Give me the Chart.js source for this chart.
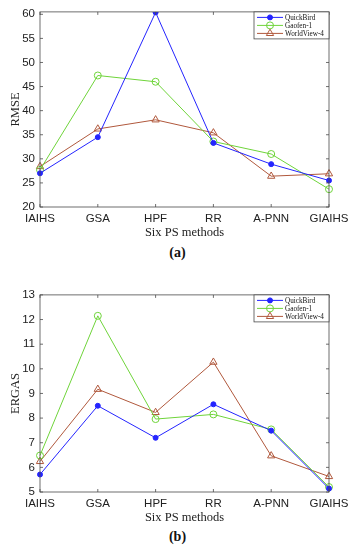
<!DOCTYPE html>
<html>
<head>
<meta charset="utf-8">
<script src="https://cdn.jsdelivr.net/npm/chart.js@4.4.0/dist/chart.umd.min.js"></script>
<style>
  body { margin: 0; background: #fff; width: 355px; height: 550px; position: relative; overflow: hidden; }
  .box { position: absolute; left: 0; width: 355px; }
  .cap { position: absolute; left: 0; width: 355px; text-align: center; font: bold 14px "Liberation Serif", "Times New Roman", serif; color: #111; }
</style>
</head>
<body>
<div class="box" style="top:0;height:242px"><canvas id="rmseChart"></canvas></div>
<div class="cap" style="top:245px">(a)</div>
<div class="box" style="top:283px;height:244px"><canvas id="ergasChart"></canvas></div>
<div class="cap" style="top:529px">(b)</div>
<script>
// six pan-sharpening methods
const methods = ['IAIHS', 'GSA', 'HPF', 'RR', 'A-PNN', 'GIAIHS'];
const seriesNames = ['QuickBird', 'Gaofen-1', 'WorldView-4'];

// (a) RMSE
const rmseQuickBird = [27.0, 34.5, 60.4, 33.3, 28.9, 25.5];
const rmseGaofen = [27.7, 47.3, 46.0, 33.6, 31.0, 23.7];
const rmseWorldView = [28.4, 36.2, 38.1, 35.4, 26.4, 26.9];
const rmseTicks = [20, 25, 30, 35, 40, 45, 50, 55, 60];

// (b) ERGAS
const ergasQuickBird = [5.71, 8.50, 7.20, 8.56, 7.49, 5.14];
const ergasGaofen = [6.48, 12.15, 7.96, 8.15, 7.54, 5.20];
const ergasWorldView = [6.24, 9.17, 8.23, 10.27, 6.47, 5.63];
const ergasTicks = [5, 6, 7, 8, 9, 10, 11, 12, 13];

const colors = ['#2424ff', '#6fd43a', '#b0583c'];
const styles = [
  { pointStyle: 'circle', radius: 2.5, fill: true },
  { pointStyle: 'circle', radius: 3.5, fill: false },
  { pointStyle: 'triangle', radius: 4.2, fill: false }
];

const serif = '"Liberation Serif", "Times New Roman", serif';
const sans = '"Liberation Sans", Arial, Helvetica, sans-serif';

function makeDatasets(arrs) {
  return arrs.map((d, i) => ({
    label: seriesNames[i],
    data: d,
    borderColor: colors[i],
    borderWidth: 1,
    pointStyle: styles[i].pointStyle,
    pointRadius: styles[i].radius,
    pointBorderWidth: 1,
    pointBorderColor: colors[i],
    pointBackgroundColor: styles[i].fill ? colors[i] : 'rgba(255,255,255,0)',
    tension: 0
  }));
}

function drawMarker(ctx, style, color, x, y) {
  ctx.save();
  ctx.strokeStyle = color;
  ctx.fillStyle = color;
  ctx.lineWidth = 1;
  ctx.beginPath();
  if (style.pointStyle === 'triangle') {
    const r = style.radius;
    ctx.moveTo(x, y - r);
    ctx.lineTo(x + r * 0.866, y + r * 0.5);
    ctx.lineTo(x - r * 0.866, y + r * 0.5);
    ctx.closePath();
  } else {
    ctx.arc(x, y, style.radius, 0, Math.PI * 2);
  }
  if (style.fill) ctx.fill();
  ctx.stroke();
  ctx.restore();
}

// matlab-like box with inward ticks plus legend in the top right corner
const boxPlugin = {
  id: 'matlabBox',
  afterDraw(chart) {
    const { ctx, chartArea: a, scales } = chart;
    ctx.save();
    ctx.strokeStyle = '#4a4a4a';
    ctx.lineWidth = 0.8;
    ctx.strokeRect(a.left, a.top, a.right - a.left, a.bottom - a.top);
    ctx.beginPath();
    scales.y.ticks.forEach(t => {
      const py = scales.y.getPixelForValue(t.value);
      ctx.moveTo(a.left, py); ctx.lineTo(a.left + 3, py);
      ctx.moveTo(a.right, py); ctx.lineTo(a.right - 3, py);
    });
    methods.forEach((m, i) => {
      const px = scales.x.getPixelForValue(i);
      ctx.moveTo(px, a.bottom); ctx.lineTo(px, a.bottom - 3);
      ctx.moveTo(px, a.top); ctx.lineTo(px, a.top + 3);
    });
    ctx.stroke();

    // legend
    const w = 75, h = 27;
    const lx = a.right - w, ly = a.top;
    ctx.fillStyle = '#fff';
    ctx.fillRect(lx, ly, w, h);
    ctx.strokeStyle = '#4a4a4a';
    ctx.strokeRect(lx, ly, w, h);
    ctx.font = '7.2px ' + serif;
    ctx.textBaseline = 'middle';
    chart.data.datasets.forEach((ds, i) => {
      const ry = ly + 5.5 + i * 8;
      ctx.strokeStyle = colors[i];
      ctx.lineWidth = 1;
      ctx.beginPath();
      ctx.moveTo(lx + 3, ry); ctx.lineTo(lx + 29, ry);
      ctx.stroke();
      drawMarker(ctx, styles[i], colors[i], lx + 16, ry);
      ctx.fillStyle = '#111';
      ctx.fillText(ds.label, lx + 31, ry + 0.5);
    });
    ctx.restore();
  }
};

function makeChart(id, arrs, tickVals, yMax, yTitle, padTop) {
  return new Chart(document.getElementById(id), {
    type: 'line',
    data: { labels: methods, datasets: makeDatasets(arrs) },
    options: {
      responsive: true,
      maintainAspectRatio: false,
      animation: false,
      layout: { padding: { left: 8, right: 26, top: padTop, bottom: 0 } },
      plugins: { legend: { display: false }, tooltip: { enabled: false } },
      scales: {
        x: {
          offset: false,
          grid: { display: false, drawTicks: false },
          border: { display: false },
          ticks: { color: '#222', font: { family: sans, size: 11.5 }, padding: 5, maxRotation: 0, autoSkip: false },
          title: { display: true, text: 'Six PS methods', color: '#222', font: { family: serif, size: 12.5 }, padding: { top: 0, bottom: 2 } },
          afterFit: s => { s.height = 35; }
        },
        y: {
          min: tickVals[0],
          max: yMax,
          grid: { display: false, drawTicks: false },
          border: { display: false },
          afterBuildTicks: s => { s.ticks = tickVals.map(v => ({ value: v })); },
          ticks: { color: '#222', font: { family: sans, size: 11.5 }, padding: 5 },
          title: { display: true, text: yTitle, color: '#222', font: { family: serif, size: 12.5 }, padding: 0 },
          afterFit: s => { s.width = 32; }
        }
      }
    },
    plugins: [boxPlugin]
  });
}

makeChart('rmseChart', [rmseQuickBird, rmseGaofen, rmseWorldView], rmseTicks, 60.5, 'RMSE', 7.5);
makeChart('ergasChart', [ergasQuickBird, ergasGaofen, ergasWorldView], ergasTicks, 13, 'ERGAS', 9.5);
</script>
</body>
</html>
